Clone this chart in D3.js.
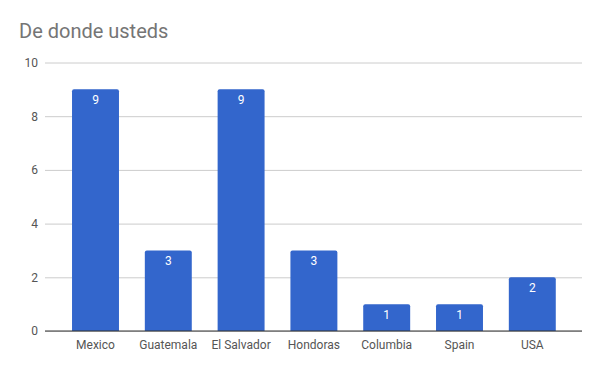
<!DOCTYPE html>
<html><head><meta charset="utf-8">
<script src="https://cdn.jsdelivr.net/npm/d3@7"></script>
<style>body{margin:0;background:#fff}svg{display:block;font-family:Roboto,sans-serif}</style>
</head><body><svg id="c" width="600" height="371"></svg>
<script>
const categories = ["Mexico","Guatemala","El Salvador","Hondoras","Columbia","Spain","USA"];
const values = [9,3,9,3,1,1,2];
const yTicks = [0,2,4,6,8,10];
const title = "De donde usteds";

const svg = d3.select("#c");
const x = d3.scaleBand().domain(categories).range([59.1,568.7]).paddingInner(0.355).paddingOuter(0.1775);
const y = d3.scaleLinear().domain([0,10]).range([331,62.5]);

svg.append("text").attr("x",19).attr("y",38).attr("font-size",20).attr("fill","#757575").text(title);

const yAxis = svg.append("g").attr("transform","translate(45,0)")
  .call(d3.axisLeft(y).tickValues(yTicks).tickSize(-537).tickPadding(7));
yAxis.select(".domain").remove();
yAxis.selectAll(".tick line").attr("stroke","#cccccc");
yAxis.selectAll(".tick text").attr("font-size",12).attr("fill","#555").attr("font-family","Roboto,sans-serif");

const r = 2;
svg.append("g").selectAll("path").data(categories).join("path")
  .attr("fill","#3366cc")
  .attr("d",(c,i)=>{
    const x0=x(c), w=x.bandwidth(), y0=y(values[i]), y1=y(0);
    return `M${x0},${y1}V${y0+r}Q${x0},${y0} ${x0+r},${y0}H${x0+w-r}Q${x0+w},${y0} ${x0+w},${y0+r}V${y1}Z`;
  });

svg.append("line").attr("x1",45).attr("x2",582).attr("y1",y(0)).attr("y2",y(0)).attr("stroke","#333").attr("stroke-width",1);

svg.append("g").selectAll("text").data(categories).join("text")
  .attr("x",c=>x(c)+x.bandwidth()/2).attr("y",(c,i)=>y(values[i])+15)
  .attr("text-anchor","middle").attr("font-size",12).attr("fill","#fff")
  .text((c,i)=>values[i]);

svg.append("g").selectAll("text").data(categories).join("text")
  .attr("x",c=>x(c)+x.bandwidth()/2).attr("y",349)
  .attr("text-anchor","middle").attr("font-size",12).attr("fill","#555")
  .text(c=>c);
</script></body></html>
